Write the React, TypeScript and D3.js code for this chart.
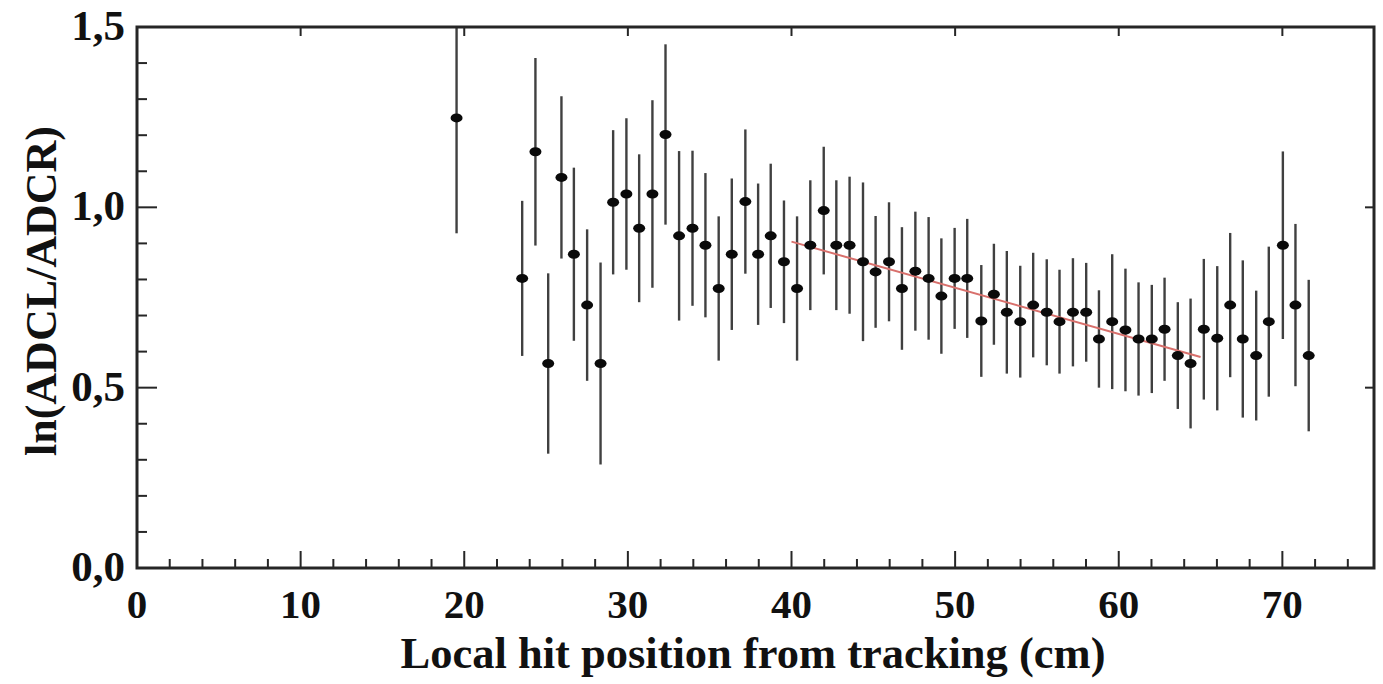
import * as d3 from "d3";

// bin centres (cm), ln(ADCL/ADCR) and half error bars
const xValues = [
  19.53, 23.54, 24.35, 25.13, 25.94, 26.7, 27.51, 28.33, 29.1, 29.91, 30.69,
  31.5, 32.3, 33.13, 33.95, 34.74, 35.55, 36.35, 37.18, 37.96, 38.73, 39.54,
  40.34, 41.15, 41.97, 42.74, 43.55, 44.37, 45.14, 45.96, 46.75, 47.57, 48.38,
  49.16, 49.97, 50.74, 51.6, 52.37, 53.16, 53.98, 54.77, 55.6, 56.38, 57.2,
  58.01, 58.79, 59.6, 60.41, 61.21, 62.02, 62.8, 63.61, 64.39, 65.2, 66.02,
  66.81, 67.58, 68.4, 69.17, 70.03, 70.8, 71.61,
];
const yValues = [
  1.248, 0.803, 1.154, 0.567, 1.083, 0.87, 0.729, 0.567, 1.014, 1.037, 0.942,
  1.037, 1.202, 0.921, 0.942, 0.895, 0.775, 0.87, 1.016, 0.87, 0.921, 0.849,
  0.775, 0.895, 0.991, 0.895, 0.895, 0.849, 0.821, 0.849, 0.775, 0.823, 0.803,
  0.754, 0.803, 0.803, 0.685, 0.759, 0.709, 0.683, 0.729, 0.709, 0.683, 0.709,
  0.709, 0.635, 0.683, 0.66, 0.635, 0.635, 0.662, 0.589, 0.567, 0.662, 0.637,
  0.729, 0.635, 0.589, 0.683, 0.895, 0.729, 0.589,
];
const yErrors = [
  0.32, 0.215, 0.26, 0.25, 0.225, 0.24, 0.21, 0.28, 0.2, 0.21, 0.205, 0.26,
  0.25, 0.235, 0.215, 0.2, 0.2, 0.21, 0.2, 0.196, 0.2, 0.17, 0.2, 0.18, 0.177,
  0.18, 0.19, 0.22, 0.155, 0.165, 0.17, 0.165, 0.17, 0.16, 0.14, 0.165, 0.155,
  0.14, 0.17, 0.155, 0.145, 0.147, 0.144, 0.15, 0.137, 0.135, 0.187, 0.17,
  0.157, 0.15, 0.143, 0.148, 0.18, 0.195, 0.2, 0.2, 0.218, 0.18, 0.208, 0.26,
  0.225, 0.21,
];

// linear fit drawn over 40-65 cm
const fitX = [40, 65];
const fitY = [0.905, 0.585];

const xMajorTicks = [0, 10, 20, 30, 40, 50, 60, 70];
const xMinorTicks = [2, 4, 6, 8, 12, 14, 16, 18, 22, 24, 26, 28, 32, 34, 36, 38, 42, 44, 46, 48, 52, 54, 56, 58, 62, 64, 66, 68, 72, 74];
const yMajorTicks = [0, 0.5, 1.0, 1.5];
const yMinorTicks = [0.1, 0.2, 0.3, 0.4, 0.6, 0.7, 0.8, 0.9, 1.1, 1.2, 1.3, 1.4];

const WIDTH = 1383;
const HEIGHT = 684;
const LEFT = 137;
const RIGHT = 1374;
const TOP = 27;
const BOTTOM = 568;
const FONT = "'Liberation Serif', 'Times New Roman', serif";
const AXIS_COLOR = "#262626";

const fmt = (v: number) => v.toFixed(1).replace(".", ",");

export default function App() {
  const x = d3.scaleLinear().domain([0, 75.6]).range([LEFT, RIGHT]);
  const y = d3.scaleLinear().domain([0, 1.5]).range([BOTTOM, TOP]);

  const fitLine = d3
    .line<number>()
    .x((d) => x(d))
    .y((_, i) => y(fitY[i]));

  return (
    <svg
      width={WIDTH}
      height={HEIGHT}
      style={{ position: "absolute", left: 0, top: 0, background: "white" }}
    >
      <defs>
        <clipPath id="plot">
          <rect x={LEFT} y={TOP} width={RIGHT - LEFT} height={BOTTOM - TOP} />
        </clipPath>
      </defs>

      {/* error bars, fit and markers */}
      <g clipPath="url(#plot)">
        {xValues.map((xv, i) => (
          <line
            key={"e" + i}
            x1={x(xv)}
            x2={x(xv)}
            y1={y(yValues[i] + yErrors[i])}
            y2={y(yValues[i] - yErrors[i])}
            stroke="#404040"
            strokeWidth={2.4}
          />
        ))}
        <path
          d={fitLine(fitX) ?? ""}
          fill="none"
          stroke="#d8706c"
          strokeWidth={2}
        />
        {xValues.map((xv, i) => (
          <ellipse
            key={"m" + i}
            cx={x(xv)}
            cy={y(yValues[i])}
            rx={6}
            ry={4.5}
            fill="#0a0a0a"
          />
        ))}
      </g>

      {/* ticks */}
      <g stroke={AXIS_COLOR} strokeWidth={2}>
        {xMajorTicks.map((t) => (
          <g key={"xM" + t}>
            <line x1={x(t)} x2={x(t)} y1={BOTTOM} y2={BOTTOM - 17} />
            <line x1={x(t)} x2={x(t)} y1={TOP} y2={TOP + 9} />
          </g>
        ))}
        {xMinorTicks.map((t) => (
          <line key={"xm" + t} x1={x(t)} x2={x(t)} y1={BOTTOM} y2={BOTTOM - 9} />
        ))}
        {yMajorTicks.map((t) => (
          <g key={"yM" + t}>
            <line x1={LEFT} x2={LEFT + 20} y1={y(t)} y2={y(t)} />
            <line x1={RIGHT} x2={RIGHT - 9} y1={y(t)} y2={y(t)} />
          </g>
        ))}
        {yMinorTicks.map((t) => (
          <line key={"ym" + t} x1={LEFT} x2={LEFT + 10} y1={y(t)} y2={y(t)} />
        ))}
      </g>

      {/* frame */}
      <rect
        x={LEFT}
        y={TOP}
        width={RIGHT - LEFT}
        height={BOTTOM - TOP}
        fill="none"
        stroke={AXIS_COLOR}
        strokeWidth={3}
      />

      {/* tick labels and titles */}
      <g fontFamily={FONT} fontWeight="bold" fill="#111">
        {xMajorTicks.map((t) => (
          <text key={"xl" + t} x={x(t)} y={BOTTOM + 50} fontSize={41} textAnchor="middle">
            {t}
          </text>
        ))}
        {yMajorTicks.map((t) => (
          <text key={"yl" + t} x={LEFT - 12} y={y(t) + 13} fontSize={43} textAnchor="end">
            {fmt(t)}
          </text>
        ))}
        <text x={753} y={668} fontSize={44.5} textAnchor="middle">
          Local hit position from tracking (cm)
        </text>
        <text
          transform={`translate(56, 291) rotate(-90)`}
          fontSize={44}
          textAnchor="middle"
        >
          ln(ADCL/ADCR)
        </text>
      </g>
    </svg>
  );
}
